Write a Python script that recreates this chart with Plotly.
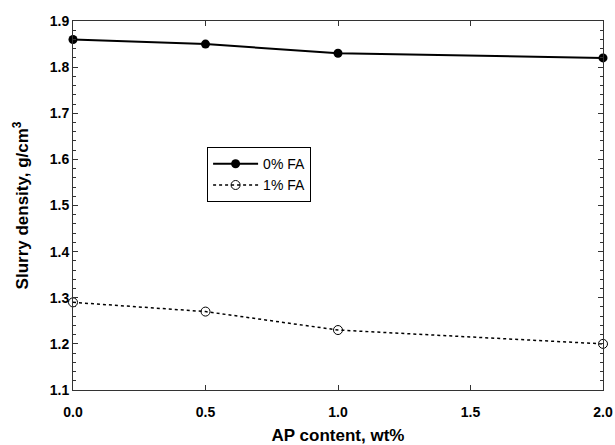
import plotly.graph_objects as go

ap_content = [0.0, 0.5, 1.0, 2.0]
density_0fa = [1.86, 1.85, 1.83, 1.82]
density_1fa = [1.29, 1.27, 1.23, 1.20]
series_names = ["0% FA", "1% FA"]
x_ticks = [0.0, 0.5, 1.0, 1.5, 2.0]
y_ticks = [1.1, 1.2, 1.3, 1.4, 1.5, 1.6, 1.7, 1.8, 1.9]

FONT = "Arial"

fig = go.Figure()
fig.add_trace(go.Scatter(
    x=ap_content, y=density_0fa, name=series_names[0], mode="lines+markers",
    line=dict(color="black", width=2),
    marker=dict(symbol="circle", size=9, color="black"),
    cliponaxis=False,
))
fig.add_trace(go.Scatter(
    x=ap_content, y=density_1fa, name=series_names[1], mode="lines+markers",
    line=dict(color="black", width=1.5, dash="dot"),
    marker=dict(symbol="circle-open", size=9, color="black", line=dict(width=1)),
    cliponaxis=False,
))

fig.update_layout(
    width=615, height=445,
    margin=dict(l=73, r=12, t=21, b=55),
    plot_bgcolor="white", paper_bgcolor="white",
    font=dict(family=FONT, color="black"),
    showlegend=True,
    legend=dict(
        x=0.253, y=0.658, xanchor="left", yanchor="top",
        bordercolor="black", borderwidth=1, bgcolor="white",
        font=dict(size=14, family=FONT),
        tracegroupgap=0, itemwidth=45,
    ),
    xaxis=dict(
        range=[0, 2.0], tickvals=x_ticks, ticktext=[f"{v:.1f}" for v in x_ticks],
        ticks="inside", ticklen=5, tickcolor="#333", mirror="ticks",
        showline=True, linecolor="#333", linewidth=1, showgrid=False, zeroline=False,
        tickfont=dict(size=14, family=FONT, weight="bold"), ticklabelstandoff=9,
        title=dict(text="<b>AP content, wt%</b>", font=dict(size=17, family=FONT), standoff=11),
        automargin=False,
    ),
    yaxis=dict(
        range=[1.1, 1.9], tickvals=y_ticks, ticktext=[f"{v:.1f}" for v in y_ticks],
        ticks="inside", ticklen=5, tickcolor="#333", mirror="ticks",
        showline=True, linecolor="#333", linewidth=1, showgrid=False, zeroline=False,
        tickfont=dict(size=14, family=FONT, weight="bold"),
        minor=dict(dtick=0.02, ticks="inside", ticklen=3, tickcolor="#333", showgrid=False),
        title=dict(text="<b>Slurry density, g/cm<sup>3</sup></b>", font=dict(size=17, family=FONT), standoff=16),
        automargin=False,
    ),
)

fig.write_html("out.html")
